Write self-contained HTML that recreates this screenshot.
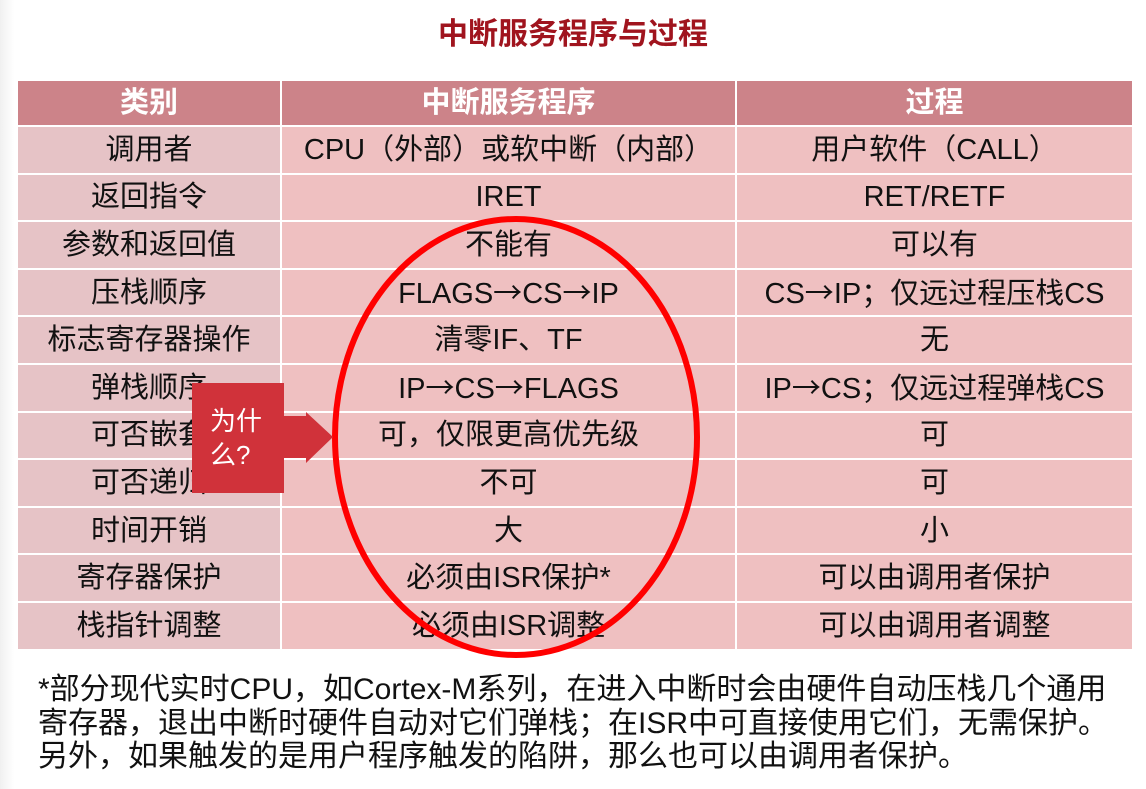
<!DOCTYPE html>
<html><head><meta charset="utf-8"><style>
body{margin:0;width:1146px;height:789px;overflow:hidden;background:#fff;position:relative;font-family:"Liberation Sans","Noto Sans CJK SC",sans-serif;}
.lg{position:absolute;left:0;top:0;width:14px;height:789px;background:linear-gradient(90deg,#f0f0f0,#fff);}
.title{position:absolute;left:0;width:1146px;top:9px;text-align:center;font-size:30px;font-weight:bold;color:#a0141e;}
table{position:absolute;left:16px;top:79px;border-collapse:collapse;width:1116px;table-layout:fixed;}
td{border:2px solid #fff;text-align:center;font-size:29px;color:#111;height:45.6px;padding:0;background:#efc0c1;white-space:nowrap;line-height:30px;}
td.c1{background:#e6c3c6;}
tr.h td{background:#cc8389;color:#fff;font-weight:bold;height:44px;}
.a{font-family:"Noto Sans CJK SC",sans-serif;}
.note{position:absolute;left:38px;top:673px;font-size:30px;line-height:33.5px;color:#111;white-space:nowrap;}
</style></head><body>
<div class="lg"></div>
<div class="title">中断服务程序与过程</div>
<table>
<colgroup><col style="width:264px"><col style="width:455px"><col style="width:397px"></colgroup>
<tr class="h"><td>类别</td><td>中断服务程序</td><td>过程</td></tr>
<tr><td class="c1">调用者</td><td>CPU（外部）或软中断（内部）</td><td>用户软件（CALL）</td></tr>
<tr><td class="c1">返回指令</td><td>IRET</td><td>RET/RETF</td></tr>
<tr><td class="c1">参数和返回值</td><td>不能有</td><td>可以有</td></tr>
<tr><td class="c1">压栈顺序</td><td>FLAGS<span class="a">→</span>CS<span class="a">→</span>IP</td><td>CS<span class="a">→</span>IP；仅远过程压栈CS</td></tr>
<tr><td class="c1">标志寄存器操作</td><td>清零IF、TF</td><td>无</td></tr>
<tr><td class="c1">弹栈顺序</td><td>IP<span class="a">→</span>CS<span class="a">→</span>FLAGS</td><td>IP<span class="a">→</span>CS；仅远过程弹栈CS</td></tr>
<tr><td class="c1">可否嵌套</td><td>可，仅限更高优先级</td><td>可</td></tr>
<tr><td class="c1">可否递归</td><td>不可</td><td>可</td></tr>
<tr><td class="c1">时间开销</td><td>大</td><td>小</td></tr>
<tr><td class="c1">寄存器保护</td><td>必须由ISR保护*</td><td>可以由调用者保护</td></tr>
<tr><td class="c1">栈指针调整</td><td>必须由ISR调整</td><td>可以由调用者调整</td></tr>
</table>
<svg style="position:absolute;left:0;top:0" width="1146" height="789">
<ellipse cx="516" cy="437" rx="181" ry="218" fill="none" stroke="#ff0000" stroke-width="6"/>
<rect x="192" y="383" width="92" height="110" fill="#d0323a"/>
<polygon points="283,416 306,416 306,412 333,437 306,463 306,458 283,458" fill="#d0323a"/>
<text x="210" y="430" font-size="26" fill="#fff" font-family="Liberation Sans,Noto Sans CJK SC,sans-serif">为什</text>
<text x="210" y="464" font-size="26" fill="#fff" font-family="Liberation Sans,Noto Sans CJK SC,sans-serif">么?</text>
</svg>
<div class="note">*部分现代实时CPU，如Cortex-M系列，在进入中断时会由硬件自动压栈几个通用<br>寄存器，退出中断时硬件自动对它们弹栈；在ISR中可直接使用它们，无需保护。<br>另外，如果触发的是用户程序触发的陷阱，那么也可以由调用者保护。</div>
</body></html>
